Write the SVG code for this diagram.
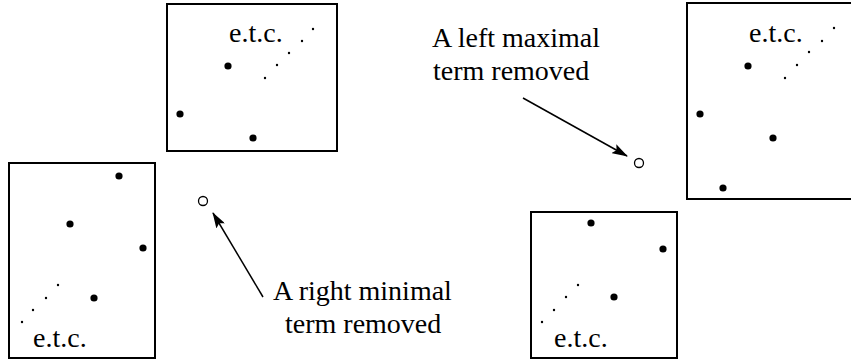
<svg xmlns="http://www.w3.org/2000/svg" width="851" height="361" viewBox="0 0 851 361">
  <style>
    .box { fill: none; stroke: #000; stroke-width: 2; }
    .big { fill: #000; }
    .small { fill: #000; }
    .open { fill: #fff; stroke: #000; stroke-width: 1.3; }
    .txt { font-family: "Liberation Serif", "Times New Roman", serif; font-size: 28px; fill: #000; }
    .arrow { stroke: #000; stroke-width: 1.5; fill: none; marker-end: url(#head); }
  </style>
  <defs>
    <marker id="head" viewBox="0 0 16 10" refX="15" refY="5" markerWidth="16" markerHeight="10" markerUnits="userSpaceOnUse" orient="auto">
      <path d="M0,0 L16,5 L0,10 L3,5 Z" fill="#000"/>
    </marker>
  </defs>

  <rect width="851" height="361" fill="#fff"/>

  <!-- upper middle panel -->
  <g id="panel-top-middle">
    <rect class="box" x="167" y="4" width="170" height="147"/>
    <text class="txt" x="229" y="42">e.t.c.</text>
    <circle class="big" cx="228" cy="66" r="3.6"/>
    <circle class="big" cx="180" cy="114" r="3.6"/>
    <circle class="big" cx="253" cy="138" r="3.6"/>
    <circle class="small" cx="265" cy="78" r="1.2"/>
    <circle class="small" cx="277" cy="65" r="1.2"/>
    <circle class="small" cx="289" cy="53" r="1.2"/>
    <circle class="small" cx="302" cy="41" r="1.2"/>
    <circle class="small" cx="313" cy="29" r="1.2"/>
  </g>

  <!-- lower left panel -->
  <g id="panel-bottom-left">
    <rect class="box" x="9" y="163" width="146" height="195"/>
    <text class="txt" x="33" y="347">e.t.c.</text>
    <circle class="big" cx="119" cy="176" r="3.6"/>
    <circle class="big" cx="70" cy="224" r="3.6"/>
    <circle class="big" cx="143" cy="248" r="3.6"/>
    <circle class="big" cx="94" cy="298" r="3.6"/>
    <circle class="small" cx="58" cy="285" r="1.2"/>
    <circle class="small" cx="46" cy="298" r="1.2"/>
    <circle class="small" cx="33" cy="310" r="1.2"/>
    <circle class="small" cx="22" cy="322" r="1.2"/>
  </g>

  <!-- removed term, left pair -->
  <g id="removed-right-minimal">
    <circle class="open" cx="203" cy="201" r="4.5"/>
    <text class="txt" x="273" y="300">A right minimal</text>
    <text class="txt" x="285" y="333">term removed</text>
  </g>

  <!-- removed term, right pair -->
  <g id="removed-left-maximal">
    <circle class="open" cx="639" cy="163" r="4.5"/>
    <text class="txt" x="432" y="47">A left maximal</text>
    <text class="txt" x="433" y="80">term removed</text>
  </g>

  <!-- upper right panel -->
  <g id="panel-top-right">
    <rect class="box" x="687" y="3" width="170" height="196"/>
    <text class="txt" x="749" y="42">e.t.c.</text>
    <circle class="big" cx="748" cy="66" r="3.6"/>
    <circle class="big" cx="700" cy="114" r="3.6"/>
    <circle class="big" cx="773" cy="138" r="3.6"/>
    <circle class="big" cx="723" cy="188" r="3.6"/>
    <circle class="small" cx="785" cy="78" r="1.2"/>
    <circle class="small" cx="797" cy="65" r="1.2"/>
    <circle class="small" cx="809" cy="52" r="1.2"/>
    <circle class="small" cx="822" cy="41" r="1.2"/>
    <circle class="small" cx="834" cy="28" r="1.2"/>
  </g>

  <!-- lower right panel -->
  <g id="panel-bottom-right">
    <rect class="box" x="531" y="212" width="146" height="146"/>
    <text class="txt" x="554" y="347">e.t.c.</text>
    <circle class="big" cx="591" cy="223" r="3.6"/>
    <circle class="big" cx="663" cy="249" r="3.6"/>
    <circle class="big" cx="614" cy="297" r="3.6"/>
    <circle class="small" cx="578" cy="285" r="1.2"/>
    <circle class="small" cx="566" cy="297" r="1.2"/>
    <circle class="small" cx="554" cy="310" r="1.2"/>
    <circle class="small" cx="542" cy="322" r="1.2"/>
  </g>

  <!-- pointers from labels to removed terms -->
  <g id="connectors">
    <line class="arrow" x1="263" y1="297" x2="213" y2="213"/>
    <line class="arrow" x1="523" y1="98" x2="627" y2="156"/>
  </g>
</svg>
